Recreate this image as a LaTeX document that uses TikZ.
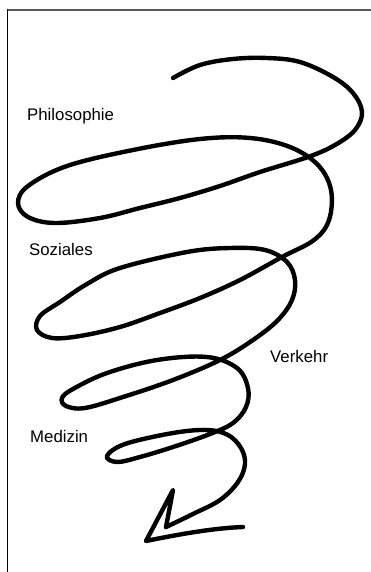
\documentclass[tikz,border=0pt]{standalone}
\usepackage{fontspec}
\setmainfont{Liberation Sans}
\begin{document}
\begin{tikzpicture}[x=1pt,y=-1pt,
  lbl/.style={anchor=base west,inner sep=0pt,font=\fontsize{16.8}{18}\selectfont},
  spiral/.style={line width=4.4pt,line cap=round,line join=round}]
\useasboundingbox[fill=white] (0,0) rectangle (371,572);
% frame
\draw[line width=2pt,color=black!65] (7,10.5) -- (371,10.5);
\draw[line width=1.6pt] (7.5,9.5) -- (7.5,572);
% spiral
\draw[spiral] plot[smooth,tension=0.6] coordinates {
 (173,78) (200,65) (233,59) (267,58) (300,62) (333,77) (353,93) (362,112) (355,130)
 (335,145) (308,157) (260,172) (220,186) (180,198) (140,208) (100,218) (55,223) (28,217)
 (18,203) (28,186) (67,166) (133,150) (200,139) (250,138) (290,147) (318,165) (331,190)
 (329,220) (314,240) (282,257) (240,280) (200,298) (160,313) (120,327) (80,336) (52,338)
 (37,330) (40,316) (60,302) (87,284) (120,268) (187,252) (230,248) (265,250) (287,262)
 (295,280) (292,300) (278,320) (253,340) (220,360) (173,380) (123,397) (85,408) (66,406)
 (62,398) (73,389) (107,373) (157,360) (207,357) (237,368) (248,388) (246,407) (233,423)
 (210,434) (173,447) (140,457) (117,462) (107,456) (125,444) (173,433) (207,430) (228,435)
 (241,448) (245,464) (238,482) (220,500) (193,514) (166,527)};
% arrow head
\draw[spiral] (166,527) -- (173,490) -- (146,541) .. controls (180,534) and (215,528) .. (243,527);
% labels
\node[lbl] (phil) at (27,121) {Philosophie};
\node[lbl] (soz) at (29,255) {Soziales};
\node[lbl] (verk) at (270,362) {Verkehr};
\node[lbl] (med) at (30,442) {Medizin};
\end{tikzpicture}
\end{document}
